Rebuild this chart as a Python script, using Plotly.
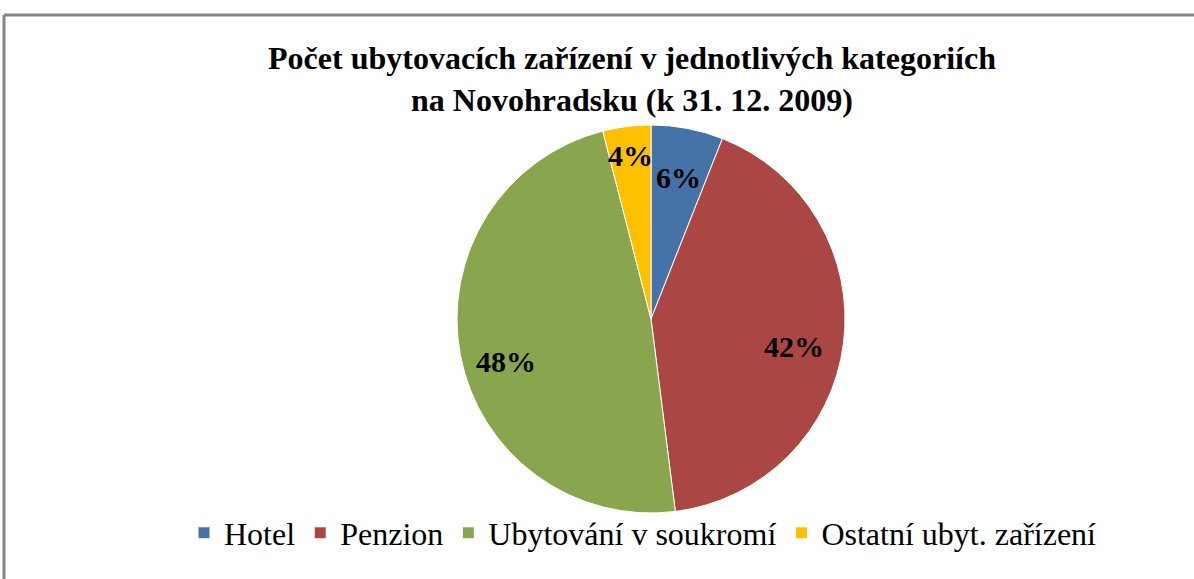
import math

import plotly.graph_objects as go

# data
categories = ["Hotel", "Penzion", "Ubytování v soukromí", "Ostatní ubyt. zařízení"]
counts = [3, 21, 24, 2]
colors = ["#4572A7", "#AA4643", "#89A54E", "#FFC000"]

title_text = "Počet ubytovacích zařízení v jednotlivých kategoriích<br>na Novohradsku (k 31. 12. 2009)"

W, H = 1194, 579
SERIF = "Times New Roman, Liberation Serif, DejaVu Serif, serif"

# geometrie kolace (px)
CX, CY, R = 651, 319, 194
label_r = [0.75, 0.745, 0.76, 0.85]     # relativni vzdalenost popisku od stredu
label_dy = [-1, -9, -15, 0]             # posun popisku dolu (px), jako "best fit" v Excelu

fig = go.Figure()
fig.add_trace(go.Pie(
    labels=categories,
    values=counts,
    sort=False,
    direction="clockwise",
    rotation=0,
    marker=dict(colors=colors, line=dict(color="white", width=1)),
    textinfo="none",
    domain=dict(x=[(CX - 300) / W, (CX + 300) / W],
                y=[1 - (CY + R) / H, 1 - (CY - R) / H]),
    hoverinfo="label+percent",
))

# popisky procent
total = sum(counts)
cum = 0
for i, v in enumerate(counts):
    mid = (cum + v / 2) / total * 2 * math.pi
    cum += v
    px = CX + label_r[i] * R * math.sin(mid)
    py = CY - label_r[i] * R * math.cos(mid)
    fig.add_annotation(
        x=px / W, y=1 - py / H, xref="paper", yref="paper",
        text=f"{round(v / total * 100)}%", showarrow=False,
        xanchor="center", yanchor="middle", yshift=label_dy[i],
        font=dict(family=SERIF, size=30, color="black", weight="bold"),
    )

# ramecek grafu (jen horni a leva hrana je videt)
border = dict(color="#868686", width=3)
fig.add_shape(type="line", xref="paper", yref="paper",
              x0=4 / W, x1=1, y0=1 - 15 / H, y1=1 - 15 / H, line=border)
fig.add_shape(type="line", xref="paper", yref="paper",
              x0=4 / W, x1=4 / W, y0=0, y1=1 - 15 / H, line=border)

fig.update_layout(
    width=W, height=H,
    title=dict(
        text=title_text,
        x=632 / W, xanchor="center",
        y=1 - 69 / H, yanchor="middle", yref="paper",
        font=dict(family=SERIF, size=32, color="black", weight="bold"),
    ),
    legend=dict(
        orientation="h",
        x=643 / W, xanchor="center",
        y=1 - 533 / H, yanchor="middle",
        font=dict(family=SERIF, size=32, color="black"),
        bgcolor="rgba(0,0,0,0)",
        traceorder="normal",
    ),
    paper_bgcolor="white",
    plot_bgcolor="white",
    margin=dict(l=0, r=0, t=0, b=0),
)

# bez okraje stranky, aby graf sedel presne do okna
fig.write_html("out.html", config={"displayModeBar": False},
               post_script="document.body.style.margin='0';")
